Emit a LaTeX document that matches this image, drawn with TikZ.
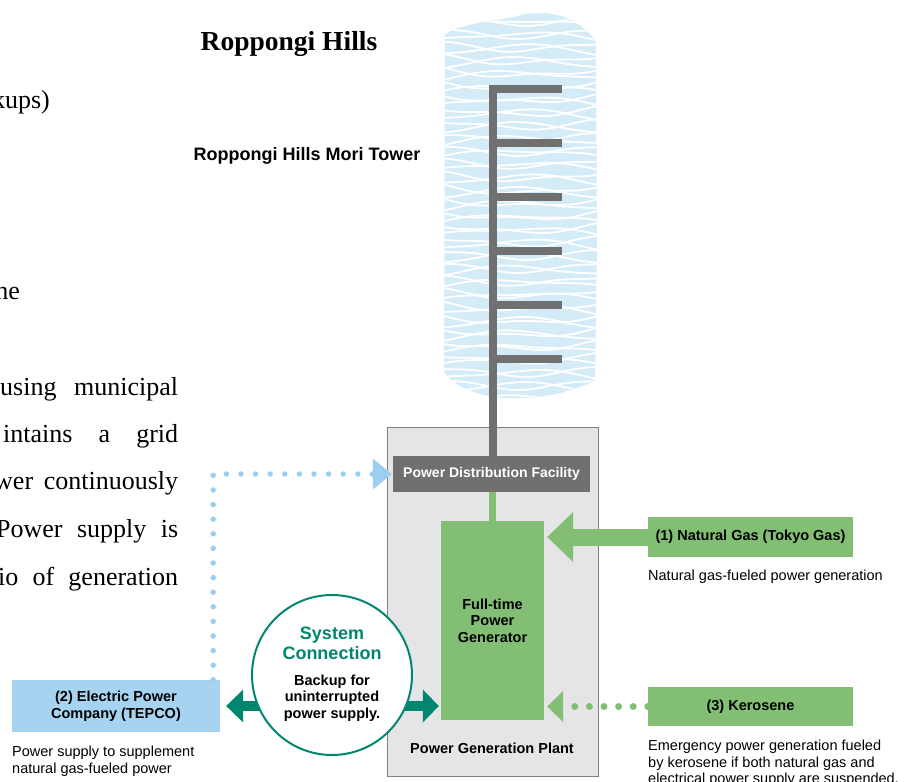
\documentclass[tikz,border=0pt]{standalone}
\usepackage{fontspec}
\setmainfont{Liberation Serif}
\setsansfont{Liberation Sans}
\usetikzlibrary{arrows.meta}
\definecolor{plantgreen}{RGB}{130,191,116}
\definecolor{systeal}{RGB}{0,134,111}
\definecolor{tepcoblue}{RGB}{166,212,240}
\definecolor{dotblue}{RGB}{156,206,240}
\definecolor{towerblue}{RGB}{212,235,248}
\definecolor{spinegray}{RGB}{112,112,112}
\definecolor{plantgray}{RGB}{229,229,231}

\begin{document}
\begin{tikzpicture}[x=1pt,y=-1pt,
  lbl/.style={font=\sffamily\bfseries\fontsize{14.5}{16.5}\selectfont, align=center, inner sep=0pt},
  captext/.style={font=\sffamily\fontsize{14.5}{16.3}\selectfont, align=left, inner sep=0pt, anchor=north west},
  body/.style={font=\fontsize{26}{30}\selectfont, inner sep=0pt, anchor=base west},
  greenbox/.style={lbl, fill=plantgreen, minimum width=205pt, minimum height=40pt},
  dots/.style={line width=#1, line cap=round, dash pattern=on 0pt off 14.6pt},
  spine/.style={spinegray, line width=8pt},
  wave/.style={white, line width=1.8pt}]

\useasboundingbox (0,0) rectangle (911,782);

\begin{scope}
  \clip (445,34) .. controls (470,20) and (500,22) .. (525,14) .. controls (555,9) and (582,20) .. (596,42)
    -- (597,250) -- (595,381) .. controls (570,392) and (540,400) .. (505,398)
    .. controls (475,396) and (455,386) .. (444,372) -- cycle;
  \fill[towerblue] (430,0) rectangle (610,410);
  \foreach \k in {0,...,31} {
    \draw[wave] plot[domain=440:600, samples=40, smooth] (\x, {4+13*\k + 7*sin(1.17*(\x-443)) + 2*sin(3.5*\x+40*\k)});
    \draw[wave] plot[domain=440:600, samples=40, smooth] (\x, {14+13*\k - 7*sin(1.17*(\x-443)) + 2*sin(2.8*\x+70*\k)});
  }
\end{scope}

\node[draw=gray, fill=plantgray, minimum width=211pt, minimum height=349pt, inner sep=0pt] (plant) at (492.5,601.5) {};
\node[lbl, anchor=base] (plantlbl) at (492,753) {Power Generation Plant};

\node[lbl, font=\sffamily\bfseries\fontsize{14}{16}\selectfont, fill=spinegray, text=white, minimum width=197pt, minimum height=36pt] (pdf) at (491.5,474) {Power Distribution Facility};
\node[lbl, fill=plantgreen, minimum width=103pt, minimum height=199pt] (gen) at (492.5,620.5) {Full-time\\Power\\Generator};
\node[greenbox] (gas) at (750.5,537) {(1) Natural Gas (Tokyo Gas)};
\node[greenbox, minimum height=39pt] (kero) at (750.5,706.5) {(3) Kerosene};
\node[lbl, fill=tepcoblue, minimum width=208pt, minimum height=52pt] (tepco) at (116,706) {(2) Electric Power\\Company (TEPCO)};

\draw[spine] (493,85) -- (493,0 |- pdf.north);
\foreach \yy in {89,143,197,251,305,359}
  \draw[spine] (493,\yy) -- (562,\yy);
\draw[plantgreen, line width=7pt] (pdf.south -| gen.north) -- (gen.north);

\draw[plantgreen, line width=17pt, -{Triangle[length=26pt, width=50pt, line width=0pt]}] (gas.west) -- ([xshift=3pt]gen.east |- gas.west);
\draw[plantgreen, dots=7pt, -{Triangle[length=16pt, width=31pt, line width=0pt]}] (kero.west) -- ([xshift=3pt]gen.east |- kero.west);
\draw[dotblue, dots=5.5pt, -{Triangle[length=19pt, width=31pt, line width=0pt]}] ([xshift=-7pt]tepco.north east) -- ([xshift=-7pt]tepco.north east |- pdf.west) -- ([xshift=-1pt]pdf.west);
\draw[systeal, line width=10pt, {Triangle[length=17pt, width=33pt, line width=0pt]}-{Triangle[length=16pt, width=33pt, line width=0pt]}] ([xshift=6pt]tepco.east) -- ([xshift=-2pt]gen.west |- tepco.east);

\node[circle, draw=systeal, line width=2pt, fill=white, minimum size=160pt, inner sep=0pt] (sys) at (332,675) {};
\node[lbl, font=\sffamily\bfseries\fontsize{18}{20}\selectfont, text=systeal, anchor=north] (systitle) at (332,627) {System\\Connection};
\node[lbl, anchor=north] (systext) at (332,674.5) {Backup for\\uninterrupted\\power supply.};

\node[captext] (gascap) at (648,569.5) {Natural gas-fueled power generation};
\node[captext] (kerocap) at (648,740) {Emergency power generation fueled\\by kerosene if both natural gas and\\electrical power supply are suspended.};
\node[captext] (tepcocap) at (12,746) {Power supply to supplement\\natural gas-fueled power};

\node[font=\bfseries\fontsize{27.5}{30}\selectfont, inner sep=0pt, anchor=base] (title) at (289,50) {Roppongi Hills};
\node[font=\sffamily\bfseries\fontsize{18}{20}\selectfont, inner sep=0pt, anchor=base] (tower) at (307,160) {Roppongi Hills Mori Tower};

\node[body, anchor=base east] (line1) at (50,108) {kups)};
\node[body, anchor=base east] (line2) at (20,299) {he};
\node[body] (line3) at (0,395) {\makebox[178pt][s]{using municipal}};
\node[body] (line4) at (3,442) {\makebox[175pt][s]{intains a grid}};
\node[body] (line5) at (-6,489) {\makebox[184pt][s]{wer continuously}};
\node[body] (line6) at (-4,537) {\makebox[182pt][s]{Power supply is}};
\node[body] (line7) at (-2,585) {\makebox[180pt][s]{io of generation}};
\end{tikzpicture}
\end{document}
